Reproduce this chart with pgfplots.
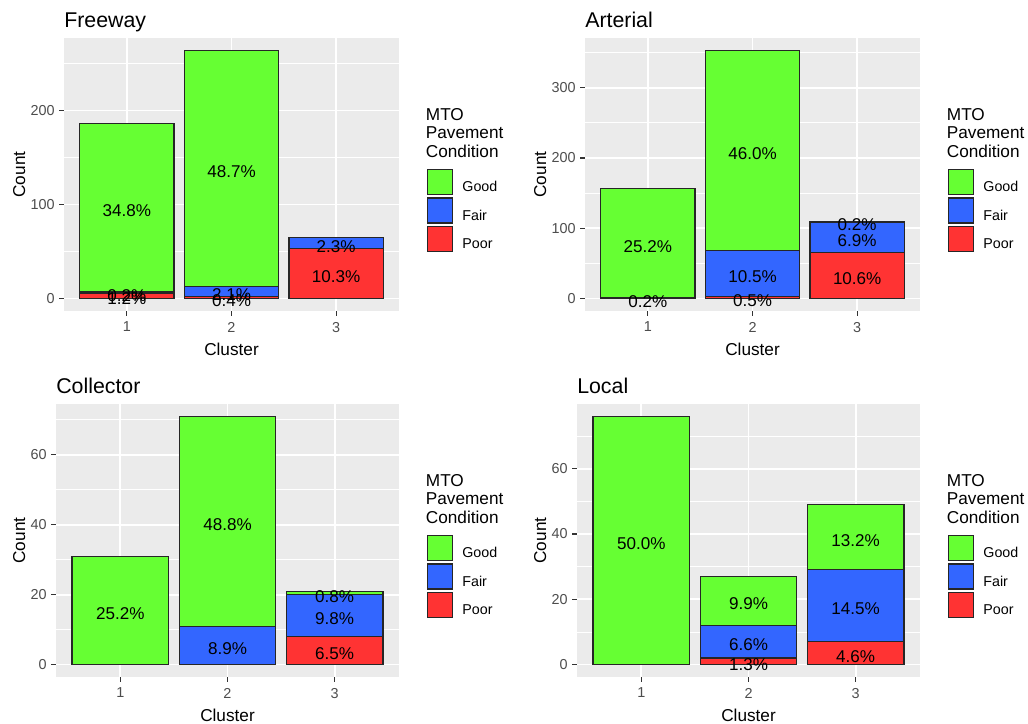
\documentclass[border=0pt]{standalone}
\usepackage{pgfplots}
\pgfplotsset{compat=1.18}
\usepackage{fontspec}
\setmainfont{Liberation Sans}
\definecolor{ggbg}{HTML}{EBEBEB}
\definecolor{gg20}{HTML}{333333}
\definecolor{gg30}{HTML}{4D4D4D}
\definecolor{cgood}{HTML}{66FF33}
\definecolor{cfair}{HTML}{3366FF}
\definecolor{cpoor}{HTML}{FF3333}
\newcommand{\fTitle}{\fontsize{16}{19}\selectfont}
\newcommand{\fLab}{\fontsize{12.9}{15}\selectfont}
\newcommand{\fBar}{\fontsize{12.8}{15}\selectfont}
\newcommand{\fLeg}{\fontsize{10.7}{13}\selectfont}
\newcommand{\fTick}{\fontsize{10.8}{13}\selectfont}

\pgfplotsset{
  panel/.style={
    scale only axis, width=#1, height=204.75pt, anchor=north west,
    xmin=0.4, xmax=3.6, enlargelimits=false, xtick={1,2,3},
  },
  fwy/.style={ymin=-13.2, ymax=277.2},
  art/.style={ymin=-17.65, ymax=370.65},
  col/.style={ymin=-3.55, ymax=74.55},
  loc/.style={ymin=-3.8, ymax=79.8},
  ggpanel/.style 2 args={
    panel=#1,
    ybar stacked, bar width=0.9,
    /pgf/number format/assume math mode=true,
    axis background/.style={fill=ggbg},
    axis x line*=bottom, axis y line*=left,
    axis line style={draw=none},
    xmajorgrids, ymajorgrids, yminorgrids,
    major grid style={white, line width=1.3pt},
    minor grid style={white, line width=0.65pt},
    tick align=outside, major tick length=3.5pt, minor tick length=0pt,
    every tick/.style={gg20, line width=0.8pt},
    xticklabel style={font=\fTick, text=gg30, inner sep=0pt, anchor=north, yshift=-4.6pt},
    yticklabel style={font=\fTick, text=gg30, inner sep=0pt, anchor=east, xshift=-3.3pt},
    xlabel={Cluster}, ylabel={Count},
    every axis x label/.style={at={(axis description cs:0.5,0)}, anchor=base, yshift=-33.5pt, font=\fLab, inner sep=0pt},
    every axis y label/.style={at={(axis description cs:0,0.5)}, xshift=-#2, rotate=90, anchor=base, font=\fLab, inner sep=0pt},
    every axis title/.style={at={(axis description cs:0,1)}, anchor=base west, yshift=8pt, font=\fTitle, inner sep=0pt},
    reverse legend,
    legend cell align=left,
    legend style={at={(axis description cs:1,1)}, anchor=north west, xshift=20.8pt, yshift=-97.7pt,
      draw=none, fill=none, inner sep=0pt, row sep=2pt, font=\fLeg, nodes={inner sep=0pt},
      /tikz/every odd column/.append style={column sep=6.9pt}},
    legend image code/.code={\draw[##1, line width=0.9pt] (0pt,-5.3pt) rectangle (18.75pt,13.45pt);},
    extra description/.code={
      \node[anchor=base west, font=\fLab, inner sep=0pt, xshift=20pt, yshift=-61.5pt] at (1,1) {MTO};
      \node[anchor=base west, font=\fLab, inner sep=0pt, xshift=20pt, yshift=-75.5pt] at (1,1) {Pavement};
      \node[anchor=base west, font=\fLab, inner sep=0pt, xshift=20pt, yshift=-89.5pt] at (1,1) {Condition};
    },
  },
  barstyle/.style={fill=#1, draw=black!85, line width=0.9pt},
  labs/.style={panel=#1, hide axis, clip=false},
  labplot/.style={draw=none, mark=none, nodes near coords={\pgfplotspointmeta\%},
    point meta=explicit symbolic, nodes near coords align={center},
    every node near coord/.append style={font=\fBar, text=black, inner sep=0pt, anchor=center, yshift=-2.4pt}},
}

\begin{document}
\begin{tikzpicture}
\useasboundingbox (0,0) rectangle (771pt,-543pt);

% ---------------- Freeway ----------------
\begin{axis}[ggpanel={251.25pt}{29.25pt}, fwy, at={(48pt,-28.5pt)},
  ytick={0,100,200}, minor ytick={50,150,250}, title={Freeway}]
\addplot[barstyle=cpoor] coordinates {(1,6) (2,2) (3,53)};
\addlegendentry{Poor}
\addplot[barstyle=cfair] coordinates {(1,1) (2,11) (3,12)};
\addlegendentry{Fair}
\addplot[barstyle=cgood] coordinates {(1,179) (2,251) (3,0)};
\addlegendentry{Good}
\end{axis}
\begin{axis}[labs={251.25pt}, fwy, at={(48pt,-28.5pt)}]
\addplot[labplot] table[meta=lab] {
x y lab
1 3 1.2
1 6.5 0.2
1 96.5 34.8
2 1 0.4
2 7.5 2.1
2 138.5 48.7
3 26.5 10.3
3 59 2.3
};
\end{axis}

% ---------------- Arterial ----------------
\begin{axis}[ggpanel={251.25pt}{29.25pt}, art, at={(438.75pt,-28.5pt)},
  ytick={0,100,200,300}, minor ytick={50,150,250,350}, title={Arterial}]
\addplot[barstyle=cpoor] coordinates {(1,0) (2,3) (3,66)};
\addlegendentry{Poor}
\addplot[barstyle=cfair] coordinates {(1,1) (2,65) (3,43)};
\addlegendentry{Fair}
\addplot[barstyle=cgood] coordinates {(1,156) (2,285) (3,1)};
\addlegendentry{Good}
\end{axis}
\begin{axis}[labs={251.25pt}, art, at={(438.75pt,-28.5pt)}]
\addplot[labplot] table[meta=lab] {
x y lab
1 0.5 0.2
1 79 25.2
2 1.5 0.5
2 35.5 10.5
2 210.5 46.0
3 33 10.6
3 87.5 6.9
3 109.5 0.2
};
\end{axis}

% ---------------- Collector ----------------
\begin{axis}[ggpanel={257.25pt}{23.25pt}, col, at={(42pt,-303pt)},
  ytick={0,20,40,60}, minor ytick={10,30,50,70}, title={Collector}]
\addplot[barstyle=cpoor] coordinates {(1,0) (2,0) (3,8)};
\addlegendentry{Poor}
\addplot[barstyle=cfair] coordinates {(1,0) (2,11) (3,12)};
\addlegendentry{Fair}
\addplot[barstyle=cgood] coordinates {(1,31) (2,60) (3,1)};
\addlegendentry{Good}
\end{axis}
\begin{axis}[labs={257.25pt}, col, at={(42pt,-303pt)}]
\addplot[labplot] table[meta=lab] {
x y lab
1 15.5 25.2
2 5.5 8.9
2 41 48.8
3 4 6.5
3 14 9.8
3 20.5 0.8
};
\end{axis}

% ---------------- Local ----------------
\begin{axis}[ggpanel={257.25pt}{23.25pt}, loc, at={(432.75pt,-303pt)},
  ytick={0,20,40,60}, minor ytick={10,30,50,70}, title={Local}]
\addplot[barstyle=cpoor] coordinates {(1,0) (2,2) (3,7)};
\addlegendentry{Poor}
\addplot[barstyle=cfair] coordinates {(1,0) (2,10) (3,22)};
\addlegendentry{Fair}
\addplot[barstyle=cgood] coordinates {(1,76) (2,15) (3,20)};
\addlegendentry{Good}
\end{axis}
\begin{axis}[labs={257.25pt}, loc, at={(432.75pt,-303pt)}]
\addplot[labplot] table[meta=lab] {
x y lab
1 38 50.0
2 1 1.3
2 7 6.6
2 19.5 9.9
3 3.5 4.6
3 18 14.5
3 39 13.2
};
\end{axis}
\end{tikzpicture}
\end{document}
